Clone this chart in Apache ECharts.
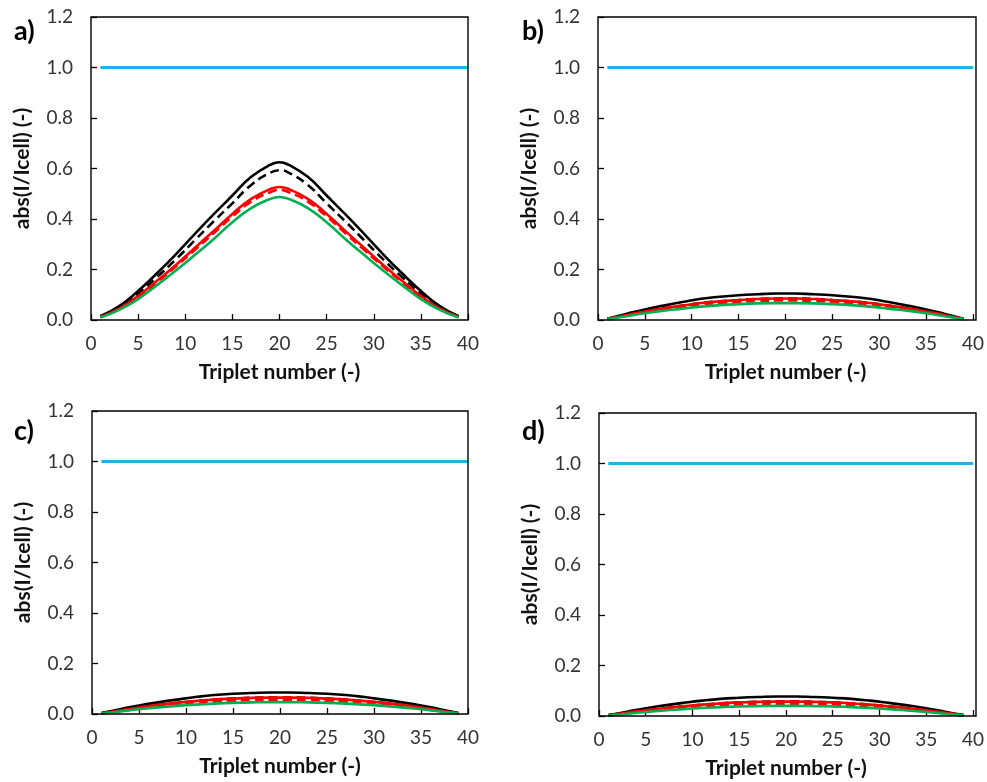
<!DOCTYPE html>
<html>
<head>
<meta charset="utf-8">
<script src="https://cdn.jsdelivr.net/npm/echarts@6/dist/echarts.min.js"></script>
<style>
	html, body { margin: 0; padding: 0; background: #fff; }
	#main { width: 987px; height: 782px; }
</style>
</head>
<body>
<div id="main"></div>
<script>
// triplet positions where the curves were read
var triplets = [1, 3, 5, 7, 9, 11, 13, 15, 17, 19, 20, 21, 23, 25, 27, 29, 31, 33, 35, 37, 39];
var refX = [1, 40];
var refY = [1.0, 1.0];
var panelLabels = ['a)', 'b)', 'c)', 'd)'];
var xTicks = [0, 40, 5];
var yTicks = [0, 1.2, 0.2];

// panel a
var aBlack  = [0.015, 0.055, 0.115, 0.185, 0.260, 0.340, 0.418, 0.493, 0.567, 0.614, 0.625, 0.614, 0.567, 0.493, 0.418, 0.340, 0.260, 0.185, 0.115, 0.055, 0.015];
var aBlackD = [0.015, 0.050, 0.105, 0.170, 0.240, 0.315, 0.390, 0.462, 0.535, 0.583, 0.593, 0.583, 0.535, 0.462, 0.390, 0.315, 0.240, 0.170, 0.105, 0.050, 0.015];
var aRed    = [0.012, 0.045, 0.095, 0.155, 0.218, 0.285, 0.352, 0.420, 0.480, 0.518, 0.527, 0.518, 0.480, 0.420, 0.352, 0.285, 0.218, 0.155, 0.095, 0.045, 0.012];
var aRedD   = [0.012, 0.044, 0.092, 0.150, 0.212, 0.277, 0.343, 0.410, 0.469, 0.506, 0.515, 0.506, 0.469, 0.410, 0.343, 0.277, 0.212, 0.150, 0.092, 0.044, 0.012];
var aGreen  = [0.010, 0.040, 0.083, 0.138, 0.196, 0.257, 0.320, 0.387, 0.443, 0.479, 0.487, 0.479, 0.443, 0.387, 0.320, 0.257, 0.196, 0.138, 0.083, 0.040, 0.010];

// panel b (black dashed sits under the red line)
var bBlack  = [0.005, 0.024, 0.042, 0.057, 0.071, 0.084, 0.092, 0.098, 0.102, 0.105, 0.105, 0.105, 0.102, 0.098, 0.092, 0.084, 0.071, 0.057, 0.042, 0.024, 0.005];
var bBlackD = [0.004, 0.019, 0.034, 0.046, 0.057, 0.067, 0.074, 0.079, 0.083, 0.085, 0.085, 0.085, 0.083, 0.079, 0.074, 0.067, 0.057, 0.046, 0.034, 0.019, 0.004];
var bRed    = [0.004, 0.019, 0.034, 0.046, 0.057, 0.067, 0.074, 0.079, 0.083, 0.085, 0.085, 0.085, 0.083, 0.079, 0.074, 0.067, 0.057, 0.046, 0.034, 0.019, 0.004];
var bRedD   = [0.004, 0.017, 0.031, 0.042, 0.052, 0.061, 0.067, 0.072, 0.075, 0.077, 0.077, 0.077, 0.075, 0.072, 0.067, 0.061, 0.052, 0.042, 0.031, 0.017, 0.004];
var bGreen  = [0.003, 0.015, 0.027, 0.037, 0.045, 0.053, 0.059, 0.063, 0.066, 0.067, 0.067, 0.067, 0.066, 0.063, 0.059, 0.053, 0.045, 0.037, 0.027, 0.015, 0.003];

// panel c
var cBlack  = [0.004, 0.019, 0.034, 0.046, 0.057, 0.067, 0.075, 0.080, 0.083, 0.085, 0.085, 0.085, 0.083, 0.080, 0.075, 0.067, 0.057, 0.046, 0.034, 0.019, 0.004];
var cBlackD = [0.003, 0.014, 0.026, 0.036, 0.044, 0.051, 0.057, 0.061, 0.064, 0.065, 0.065, 0.065, 0.064, 0.061, 0.057, 0.051, 0.044, 0.036, 0.026, 0.014, 0.003];
var cRed    = [0.003, 0.014, 0.026, 0.036, 0.044, 0.051, 0.057, 0.061, 0.064, 0.065, 0.065, 0.065, 0.064, 0.061, 0.057, 0.051, 0.044, 0.036, 0.026, 0.014, 0.003];
var cRedD   = [0.003, 0.012, 0.022, 0.031, 0.038, 0.044, 0.049, 0.053, 0.055, 0.056, 0.056, 0.056, 0.055, 0.053, 0.049, 0.044, 0.038, 0.031, 0.022, 0.012, 0.003];
var cGreen  = [0.002, 0.010, 0.019, 0.026, 0.032, 0.037, 0.041, 0.044, 0.046, 0.047, 0.047, 0.047, 0.046, 0.044, 0.041, 0.037, 0.032, 0.026, 0.019, 0.010, 0.002];

// panel d
var dBlack  = [0.004, 0.017, 0.031, 0.042, 0.052, 0.061, 0.068, 0.072, 0.075, 0.077, 0.077, 0.077, 0.075, 0.072, 0.068, 0.061, 0.052, 0.042, 0.031, 0.017, 0.004];
var dBlackD = [0.003, 0.013, 0.023, 0.031, 0.038, 0.045, 0.050, 0.054, 0.056, 0.057, 0.057, 0.057, 0.056, 0.054, 0.050, 0.045, 0.038, 0.031, 0.023, 0.013, 0.003];
var dRed    = [0.003, 0.013, 0.023, 0.031, 0.038, 0.045, 0.050, 0.054, 0.056, 0.057, 0.057, 0.057, 0.056, 0.054, 0.050, 0.045, 0.038, 0.031, 0.023, 0.013, 0.003];
var dRedD   = [0.002, 0.011, 0.019, 0.026, 0.032, 0.038, 0.042, 0.045, 0.047, 0.048, 0.048, 0.048, 0.047, 0.045, 0.042, 0.038, 0.032, 0.026, 0.019, 0.011, 0.002];
var dGreen  = [0.002, 0.009, 0.016, 0.022, 0.027, 0.032, 0.035, 0.038, 0.039, 0.040, 0.040, 0.040, 0.039, 0.038, 0.035, 0.032, 0.027, 0.022, 0.016, 0.009, 0.002];

var panels = [
	[aBlack, aBlackD, aRed, aRedD, aGreen],
	[bBlack, bBlackD, bRed, bRedD, bGreen],
	[cBlack, cBlackD, cRed, cRedD, cGreen],
	[dBlack, dBlackD, dRed, dRedD, dGreen]
];

var grids = [
	{ left: 91, top: 17, width: 377, height: 303 },
	{ left: 598, top: 17, width: 378, height: 303 },
	{ left: 92, top: 411, width: 376, height: 303 },
	{ left: 599, top: 413, width: 377, height: 303 }
];
var labelPos = [[14, 18], [522, 18], [14, 418], [522, 418]];

var lineStyles = [
	{ color: '#000000', type: 'solid' },
	{ color: '#000000', type: [9, 5] },
	{ color: '#ff0000', type: 'solid' },
	{ color: '#ff0000', type: [9, 5] },
	{ color: '#00b050', type: 'solid' }
];

function pairs(xs, ys) {
	var out = [];
	for(var i = 0; i < xs.length; i++) {
		out.push([xs[i], ys[i]]);
	}
	return out;
}

var fontName = 'Lato, "Open Sans", sans-serif';
var option = {
	animation: false,
	backgroundColor: '#fff',
	grid: [],
	xAxis: [],
	yAxis: [],
	series: [],
	graphic: []
};

for(var p = 0; p < 4; p++) {
	var g = grids[p];
	option.grid.push({ left: g.left, top: g.top, width: g.width, height: g.height });
	option.xAxis.push({
		gridIndex: p, type: 'value',
		min: xTicks[0], max: xTicks[1], interval: xTicks[2],
		name: 'Triplet number (-)', nameLocation: 'middle', nameGap: 42,
		nameTextStyle: { fontFamily: fontName, fontWeight: 'bold', fontSize: 21, color: '#111' },
		axisLine: { show: false },
		axisTick: { show: true, inside: true, length: 6, lineStyle: { color: '#000', width: 1.3 } },
		axisLabel: { fontFamily: fontName, fontSize: 19, color: '#333', margin: 14 },
		splitLine: { show: false }
	});
	option.yAxis.push({
		gridIndex: p, type: 'value',
		min: yTicks[0], max: yTicks[1], interval: yTicks[2],
		name: 'abs(I/Icell) (-)', nameLocation: 'middle', nameGap: 58,
		nameTextStyle: { fontFamily: fontName, fontWeight: 'bold', fontSize: 21, color: '#111' },
		axisLine: { show: false },
		axisTick: { show: true, inside: true, length: 6, lineStyle: { color: '#000', width: 1.3 } },
		axisLabel: {
			fontFamily: fontName, fontSize: 19, color: '#333', margin: 18,
			formatter: function(v) { return v.toFixed(1); }
		},
		splitLine: { show: false }
	});

	// plot frame
	option.graphic.push({
		type: 'rect', z: 100,
		shape: { x: g.left, y: g.top, width: g.width, height: g.height },
		style: { fill: 'none', stroke: '#000', lineWidth: 1.4 }
	});
	option.graphic.push({
		type: 'text', left: labelPos[p][0], top: labelPos[p][1],
		style: { text: panelLabels[p], fontFamily: fontName, fontWeight: 'bold', fontSize: 27, fill: '#000' }
	});

	var sets = panels[p];
	for(var s = 0; s < sets.length; s++) {
		option.series.push({
			type: 'line', xAxisIndex: p, yAxisIndex: p,
			data: pairs(triplets, sets[s]),
			smooth: 0.5, showSymbol: false, symbol: 'none',
			lineStyle: { color: lineStyles[s].color, type: lineStyles[s].type, width: 2.6 }
		});
	}
	option.series.push({
		type: 'line', xAxisIndex: p, yAxisIndex: p,
		data: pairs(refX, refY),
		showSymbol: false, symbol: 'none',
		lineStyle: { color: '#1fb3ea', width: 3 }
	});
}

var ech = echarts.init(document.getElementById('main'));
ech.setOption(option);
</script>
</body>
</html>
